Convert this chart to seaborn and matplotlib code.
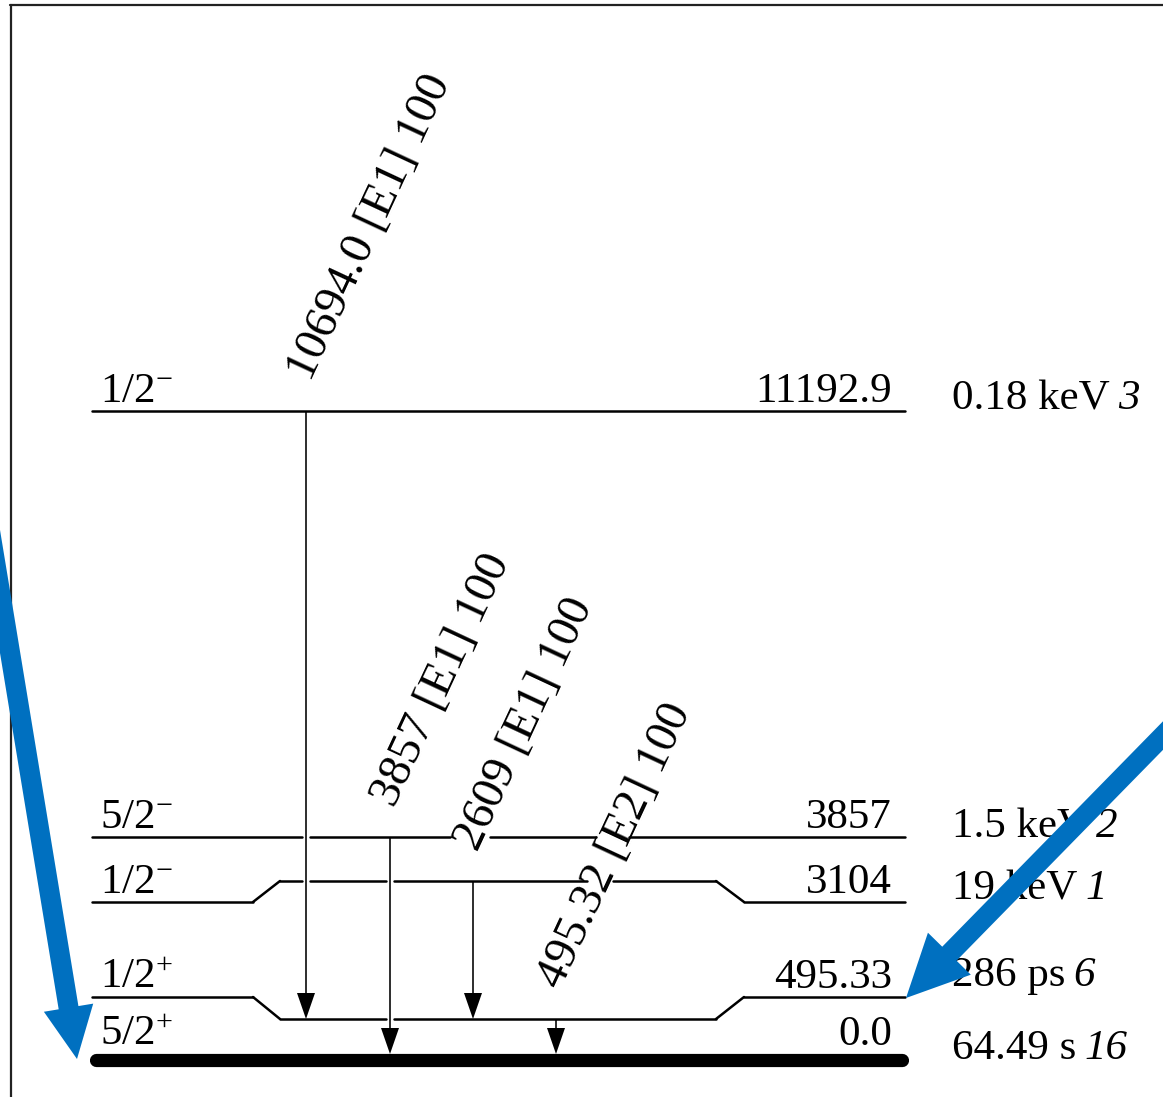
import numpy as np
import pandas as pd
import matplotlib
matplotlib.use("Agg")
import matplotlib.pyplot as plt
from matplotlib.patches import FancyArrow
import seaborn as sns

# ---- level scheme data ----
level_energy = ["11192.9", "3857", "3104", "495.33", "0.0"]
level_jpi = ["1/2$^{-}$", "5/2$^{-}$", "1/2$^{-}$", "1/2$^{+}$", "5/2$^{+}$"]
level_width = ["0.18 keV", "1.5 keV", "19 keV", "286 ps", "64.49 s"]
level_width_unc = ["3", "2", "1", "6", "16"]

gamma_energy = ["10694.0", "3857", "2609", "495.32"]
gamma_mult = ["[E1]", "[E1]", "[E1]", "[E2]"]
gamma_intensity = ["100", "100", "100", "100"]
gamma_from = [0, 1, 2, 3]
gamma_to = [3, 4, 3, 4]

# ---- drawing layout (canvas units, y grows downwards) ----
W, H = 1163, 1097
x_left, x_right = 92, 905
level_paths = [
    [(x_left, 411), (x_right, 411)],
    [(x_left, 837), (x_right, 837)],
    [(x_left, 902), (253, 902), (280, 881), (716, 881), (744, 902), (x_right, 902)],
    [(x_left, 997), (253, 997), (280, 1019), (716, 1019), (744, 997), (x_right, 997)],
]
level_gaps = [
    [],
    [(302, 310), (450, 490), (596, 629)],
    [(302, 310), (386, 394), (587, 613)],
    [(386, 394)],
]
ground_y = 1060
level_mid_y = [411, 837, 881, 1019, 1054]
label_y = [402, 828, 893, 988, 1045]
width_y = [409, 837, 899, 986, 1059]
gamma_x = [306, 390, 473, 556]

sns.set_theme(style="white")
plt.rcParams["font.family"] = ["Liberation Serif", "DejaVu Serif"]
plt.rcParams["mathtext.fontset"] = "custom"
plt.rcParams["mathtext.rm"] = "Liberation Serif"
plt.rcParams["mathtext.it"] = "Liberation Serif:italic"
plt.rcParams["text.color"] = "black"

fig = plt.figure(figsize=(W / 100, H / 100), dpi=100)
ax = fig.add_axes([0, 0, 1, 1])


def split_path(path, gaps):
    """Break a level polyline into pieces, leaving room where labels/lines cross."""
    segs = []
    for (x0, y0), (x1, y1) in zip(path[:-1], path[1:]):
        if y0 != y1:
            segs.append([(x0, y0), (x1, y1)])
            continue
        start = x0
        for g0, g1 in sorted(gaps):
            if g0 >= start and g1 <= x1:
                segs.append([(start, y0), (g0, y0)])
                start = g1
        segs.append([(start, y0), (x1, y1)])
    return segs


rows = []
seg_id = 0
for path, gaps in zip(level_paths, level_gaps):
    for seg in split_path(path, gaps):
        for (x, y) in seg:
            rows.append({"x": x, "y": y, "seg": seg_id})
        seg_id += 1
levels_df = pd.DataFrame(rows)

sns.lineplot(data=levels_df, x="x", y="y", units="seg", estimator=None,
             sort=False, color="black", linewidth=1.8, ax=ax, legend=False)

# ground state
ax.plot([x_left + 4, x_right - 3], [ground_y, ground_y], color="black",
        lw=9.5, solid_capstyle="round")

# level annotations
fs = 31
for i in range(len(level_energy)):
    ax.text(100, label_y[i], level_jpi[i], fontsize=fs, ha="left",
            va="baseline", color="black")
    ax.text(892, label_y[i], level_energy[i], fontsize=fs, ha="right",
            va="baseline", color="black")
    t = ax.text(952, width_y[i], level_width[i], fontsize=fs, ha="left",
                va="baseline", color="black")
    ax.annotate(level_width_unc[i], xy=(1, 0), xycoords=t,
                xytext=(6, 0), textcoords="offset points",
                fontsize=fs, style="italic", ha="left", va="bottom",
                color="black")

# gamma transitions
for k in range(len(gamma_energy)):
    x = gamma_x[k]
    y0 = level_mid_y[gamma_from[k]]
    y1 = level_mid_y[gamma_to[k]]
    ax.add_patch(FancyArrow(x, y0, 0, y1 - y0, width=1.6, head_width=18,
                            head_length=26, length_includes_head=True,
                            color="black", lw=0))
    ax.text(x + 5, y0 - 29, f"{gamma_energy[k]} {gamma_mult[k]} {gamma_intensity[k]}",
            fontsize=34, rotation=65, rotation_mode="anchor",
            ha="left", va="baseline", color="black")

# frame
ax.plot([10, W + 5], [5, 5], color="#222222", lw=1.6)
ax.plot([11, 11], [5, H + 5], color="#222222", lw=1.6)

# highlight arrows
blue = "#0070C0"
ax.add_patch(FancyArrow(-20, 470, 97, 589, width=20, head_width=50,
                        head_length=52, length_includes_head=True,
                        color=blue, lw=0, zorder=10))
ax.add_patch(FancyArrow(1190, 708, -284, 290, width=20, head_width=60,
                        head_length=62, length_includes_head=True,
                        color=blue, lw=0, zorder=10))

ax.set_xlim(0, W)
ax.set_ylim(H, 0)
ax.axis("off")
fig.savefig("out.png", dpi=100, facecolor="white")
